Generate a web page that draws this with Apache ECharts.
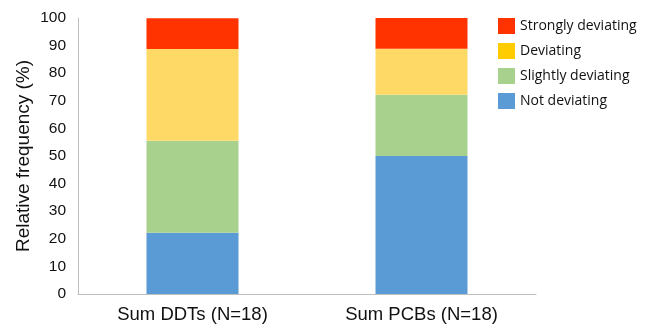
<!DOCTYPE html>
<html>
<head>
<meta charset="utf-8">
<script src="https://cdn.jsdelivr.net/npm/echarts@6/dist/echarts.min.js"></script>
<style>
  html, body { margin: 0; padding: 0; background: #fff; }
  #chart { width: 646px; height: 331px; }
</style>
</head>
<body>
<div id="chart"></div>
<script>
// categories and stacked shares (%)
const categories = ["Sum DDTs (N=18)", "Sum PCBs (N=18)"];
const notDeviating = [22.2, 50.0];
const slightlyDeviating = [33.3, 22.2];
const deviating = [33.3, 16.7];
const stronglyDeviating = [11.1, 11.1];
const yTicks = [0, 10, 20, 30, 40, 50, 60, 70, 80, 90, 100];

const chart = echarts.init(document.getElementById("chart"));

function barSeries(name, data, color) {
  return {
    name: name,
    type: "bar",
    stack: "total",
    data: data,
    barWidth: 92,
    itemStyle: { color: color },
  };
}

chart.setOption({
  animation: false,
  grid: { left: 78, right: 110, top: 18, bottom: 37 },
  legend: {
    orient: "vertical",
    left: 493,
    top: 13,
    itemWidth: 17,
    itemHeight: 16,
    itemGap: 9,
    icon: "rect",
    textStyle: { fontFamily: "Open Sans", fontSize: 14, color: "#111" },
    data: [
      { name: "Strongly deviating", itemStyle: { color: "#FF3300" } },
      { name: "Deviating", itemStyle: { color: "#FFCC00" } },
      { name: "Slightly deviating", itemStyle: { color: "#A9D18E" } },
      { name: "Not deviating", itemStyle: { color: "#5B9BD5" } },
    ],
  },
  xAxis: {
    type: "category",
    data: categories,
    axisLine: { lineStyle: { color: "#BFBFBF" } },
    axisTick: { show: false },
    axisLabel: {
      fontFamily: "Liberation Sans",
      fontSize: 18.5,
      color: "#111",
      margin: 11,
    },
  },
  yAxis: {
    type: "value",
    min: yTicks[0],
    max: yTicks[yTicks.length - 1],
    interval: 10,
    name: "Relative frequency (%)",
    nameLocation: "middle",
    nameGap: 45,
    nameMoveOverlap: false,
    nameTextStyle: { fontFamily: "Liberation Sans", fontSize: 19, color: "#111" },
    axisLine: { show: true, lineStyle: { color: "#BFBFBF" } },
    axisTick: { show: false },
    splitLine: { show: false },
    axisLabel: {
      fontFamily: "Liberation Sans",
      fontSize: 15.5,
      color: "#111",
      margin: 12,
    },
  },
  series: [
    barSeries("Not deviating", notDeviating, "#5B9BD5"),
    barSeries("Slightly deviating", slightlyDeviating, "#A9D18E"),
    barSeries("Deviating", deviating, "#FFD966"),
    barSeries("Strongly deviating", stronglyDeviating, "#FF3300"),
  ],
});
</script>
</body>
</html>
